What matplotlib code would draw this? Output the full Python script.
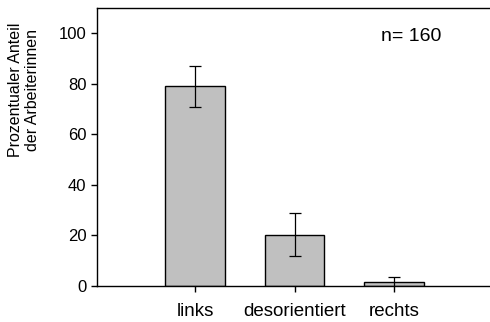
import matplotlib
matplotlib.use("Agg")
import matplotlib.pyplot as plt

categories = ["links", "desorientiert", "rechts"]
values = [79.0, 20.2, 1.4]
errors = [8.0, 8.5, 2.3]

plt.rcParams['font.family'] = ['Liberation Sans', 'DejaVu Sans']

fig = plt.figure(figsize=(4.9, 3.22), dpi=100)
ax = fig.add_axes([0.198, 0.112, 0.802, 0.863])

x = list(range(len(categories)))
ax.bar(x, values, width=0.6, color='#c0c0c0', edgecolor='black', linewidth=1.0,
       yerr=errors, capsize=4,
       error_kw=dict(ecolor='black', elinewidth=0.9, capthick=0.9))

ax.set_xlim(-0.99, 2.97)
ax.set_ylim(0, 110)
ax.set_xticks(x)
ax.set_xticklabels(categories, fontsize=13.5)
ax.set_yticks([0, 20, 40, 60, 80, 100])
ax.tick_params(axis='y', labelsize=12, length=4, width=1, direction='out')
ax.tick_params(axis='x', length=4, width=1, direction='out', pad=8)

ax.spines['right'].set_visible(False)
for s in ['left', 'top', 'bottom']:
    ax.spines[s].set_linewidth(1.0)

ax.set_ylabel('Prozentualer Anteil\nder Arbeiterinnen', fontsize=11.5)
ax.yaxis.set_label_coords(-0.145, 0.705)
ax.text(1.87, 98.8, 'n= 160', fontsize=14, va='center', ha='left')

plt.savefig('out.png', dpi=100)
